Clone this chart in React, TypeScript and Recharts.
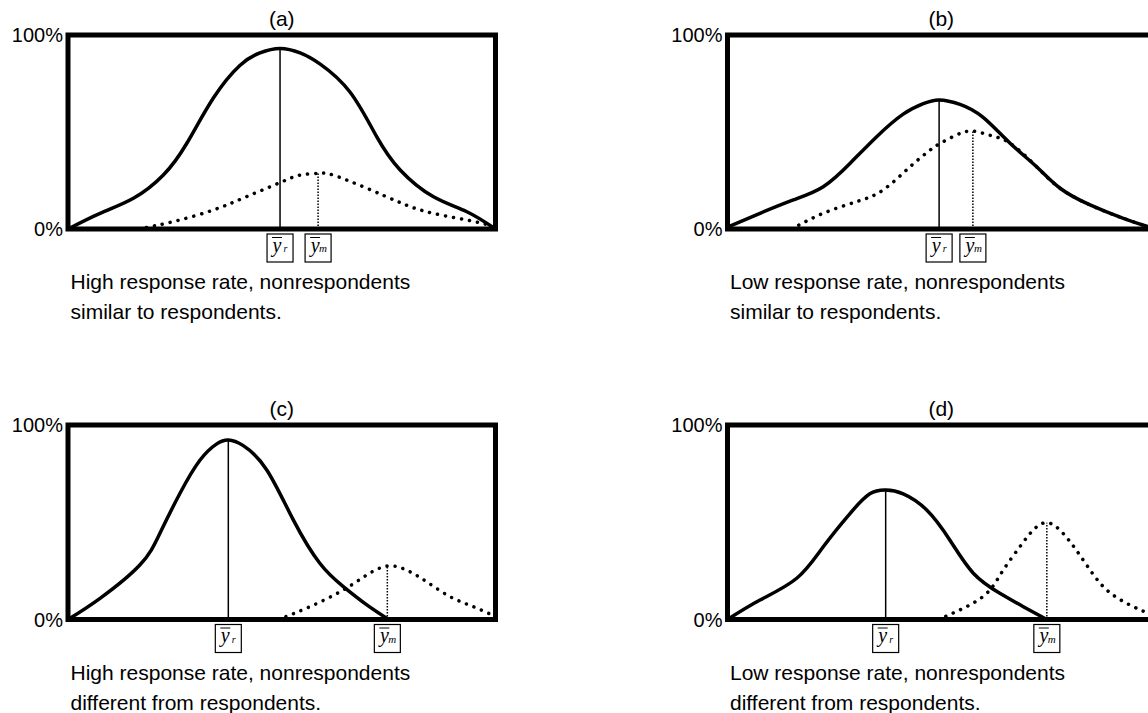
import { LineChart, Line, XAxis, YAxis, ReferenceLine, ReferenceArea } from "recharts";

// curve points: [x (0-100 across the frame), y (% of frame height)]
const respA = [[0, 0], [7.5, 8.1], [15.3, 15.8], [22.3, 27.8], [27.8, 44.2], [34, 67.5], [40.2, 84.3], [44.9, 90.8], [49.6, 93.1], [54.3, 90.8], [59, 85], [66, 70.5], [72.2, 47.6], [77.7, 30.4], [85.4, 16.7], [93.3, 8.9], [100, 0]];
const nonA = [[16.5, 0], [24.6, 3.8], [34, 9.8], [41.8, 16.7], [49.6, 23.9], [54.3, 27.8], [58.5, 28.7], [62, 27.8], [69.9, 21], [77.7, 13.6], [85.4, 8.1], [96.4, 3.2], [100, 0]];

const respB = [[0, 1], [7.6, 8.1], [15.4, 15], [22.4, 21.8], [28.7, 33.9], [34.9, 47.6], [41.1, 59.2], [45.8, 64.6], [49.5, 66.5], [54.4, 64.2], [59.8, 57.5], [66.1, 44.2], [72.3, 32.1], [77.8, 21], [84.8, 12.4], [92.6, 5.5], [100, 0]];
const nonB = [[15, 0], [22.4, 8.1], [30.2, 14.1], [36.4, 20.1], [42.7, 32.1], [47.4, 40.7], [49.5, 43.8], [53.6, 48.5], [57.4, 50.5], [61.4, 48.3], [66.1, 44.2], [72.3, 32.1], [77.8, 21], [84.8, 12.4], [92.6, 5.5], [100, 0]];

const respC = [[0, 0], [7.5, 10.9], [16.8, 28], [21.5, 44.3], [26.2, 64.9], [30.9, 82], [34.8, 90.3], [37.5, 92.3], [41, 89.4], [46.5, 76.9], [52.7, 51.2], [58.9, 28.9], [64.4, 16.9], [69.9, 7.5], [75, 0]];
const nonC = [[49.2, 0], [56.6, 6.6], [64.4, 15.2], [69.9, 22.9], [74.7, 27.5], [79.2, 25.4], [83.9, 19.4], [89.4, 11.7], [94.8, 6.6], [100, 1.5]];

const respD = [[0, 0], [7.6, 10], [16.2, 21.2], [22.4, 37.4], [28.7, 54.6], [33.3, 64.6], [37, 66.6], [41.1, 64.6], [46.6, 56.3], [52, 40.9], [57.5, 23.8], [63.7, 13.5], [69.2, 6.6], [74.7, 0]];
const nonD = [[49.3, 0], [56.7, 7.5], [61.4, 15.2], [64.5, 25.4], [68.4, 37.4], [71.5, 46], [74.7, 49.8], [78.5, 44.3], [83.2, 30.6], [87.9, 16.9], [93.4, 8.3], [98.4, 3.2], [100, 2]];

const meansR = [49.6, 49.5, 37.5, 37];
const meansM = [58.5, 57.4, 74.7, 74.7];
const titles = ["(a)", "(b)", "(c)", "(d)"];
const captions = [
  ["High response rate, nonrespondents", "similar to respondents."],
  ["Low response rate, nonrespondents", "similar to respondents."],
  ["High response rate, nonrespondents", "different from respondents."],
  ["Low response rate, nonrespondents", "different from respondents."],
];
const yTicks = [0, 100];
const subs = ["r", "m"];

const sans = "'Liberation Sans', Arial, Helvetica, sans-serif";
const serif = "'Liberation Serif', 'Times New Roman', serif";

const toPts = (a: number[][]) => a.map(([x, y]) => ({ x, y }));
const peak = (a: number[][]) => Math.max(...a.map((p) => p[1]));

const PLOT_W = 427.5;
const Y_AXIS_W = 60;

function MeanBox(props: any) {
  const { x, y, payload, meanR } = props;
  const sub = payload.value === meanR ? subs[0] : subs[1];
  return (
    <g>
      <rect x={x - 13} y={y + 5} width={26} height={28} fill="#fff" stroke="#000" strokeWidth={1.2} />
      <line x1={x - 8} x2={x + 2} y1={y + 8.5} y2={y + 8.5} stroke="#000" strokeWidth={1} />
      <text x={x - 3} y={y + 22.5} textAnchor="middle" fontFamily={serif} fontStyle="italic" fontSize={20} fill="#000">
        y
      </text>
      <text x={sub === "r" ? x + 5.5 : x + 5} y={y + 23} textAnchor="middle" fontFamily={serif} fontStyle="italic" fontSize={sub === "r" ? 10 : 11} fill="#000">
        {sub}
      </text>
    </g>
  );
}

interface PanelProps {
  idx: number;
  resp: number[][];
  non: number[][];
  left: number;
  top: number;
  plotH: number;
}

function Panel({ idx, resp, non, left, top, plotH }: PanelProps) {
  const meanR = meansR[idx];
  const meanM = meansM[idx];
  const plotLeft = left + 8 + (left > 0 ? 9.5 : 0) + Y_AXIS_W;
  const marginLeft = plotLeft - left - Y_AXIS_W;
  const width = marginLeft + Y_AXIS_W + PLOT_W + 24.5;
  const height = 35 + plotH + 40;

  return (
    <>
      <div
        style={{
          position: "absolute",
          left: plotLeft,
          top: top + 8,
          width: PLOT_W,
          textAlign: "center",
          fontFamily: sans,
          fontSize: 21,
          lineHeight: "21px",
        }}
      >
        {titles[idx]}
      </div>
      <div style={{ position: "absolute", left, top }}>
        <LineChart width={width} height={height} margin={{ top: 35, right: 24.5, bottom: 0, left: marginLeft }}>
          <XAxis
            dataKey="x"
            type="number"
            domain={[0, 100]}
            ticks={[meanR, meanM]}
            axisLine={false}
            tickLine={false}
            tickSize={0}
            tickMargin={0}
            height={40}
            interval={0}
            tick={(p: any) => <MeanBox {...p} meanR={meanR} />}
          />
          <YAxis
            type="number"
            domain={[0, 100]}
            ticks={yTicks}
            width={Y_AXIS_W}
            axisLine={false}
            tickLine={false}
            tickSize={0}
            tickMargin={5}
            tickFormatter={(v: number) => `${v}%`}
            tick={{ fontSize: 20, fill: "#000", fontFamily: sans }}
          />
          <ReferenceArea x1={0} x2={100} y1={0} y2={100} fill="none" fillOpacity={0} stroke="#000" strokeWidth={5} />
          <ReferenceLine
            segment={[{ x: meanR, y: 0 }, { x: meanR, y: peak(resp) }]}
            stroke="#000"
            strokeWidth={1.5}
          />
          <ReferenceLine
            segment={[{ x: meanM, y: 0 }, { x: meanM, y: peak(non) }]}
            stroke="#000"
            strokeWidth={1.5}
            strokeDasharray="1.5 1.5"
          />
          <Line
            data={toPts(non)}
            dataKey="y"
            type="natural"
            stroke="#000"
            strokeWidth={3.5}
            strokeDasharray="0.1 8"
            strokeLinecap="round"
            dot={false}
            isAnimationActive={false}
          />
          <Line
            data={toPts(resp)}
            dataKey="y"
            type="natural"
            stroke="#000"
            strokeWidth={3.5}
            dot={false}
            isAnimationActive={false}
          />
        </LineChart>
      </div>
      <div
        style={{
          position: "absolute",
          left: plotLeft + 2.5,
          top: top + 35 + plotH + 38,
          fontFamily: sans,
          fontSize: 21,
          lineHeight: "30px",
          color: "#000",
          whiteSpace: "nowrap",
        }}
      >
        {captions[idx][0]}
        <br />
        {captions[idx][1]}
      </div>
    </>
  );
}

export default function App() {
  return (
    <div
      style={{
        position: "absolute",
        left: 0,
        top: 0,
        width: 1148,
        height: 713,
        overflow: "hidden",
        background: "#fff",
      }}
    >
      <Panel idx={0} resp={respA} non={nonA} left={0} top={0} plotH={194} />
      <Panel idx={1} resp={respB} non={nonB} left={650} top={0} plotH={194} />
      <Panel idx={2} resp={respC} non={nonC} left={0} top={390} plotH={194.5} />
      <Panel idx={3} resp={respD} non={nonD} left={650} top={390} plotH={194.5} />
    </div>
  );
}
